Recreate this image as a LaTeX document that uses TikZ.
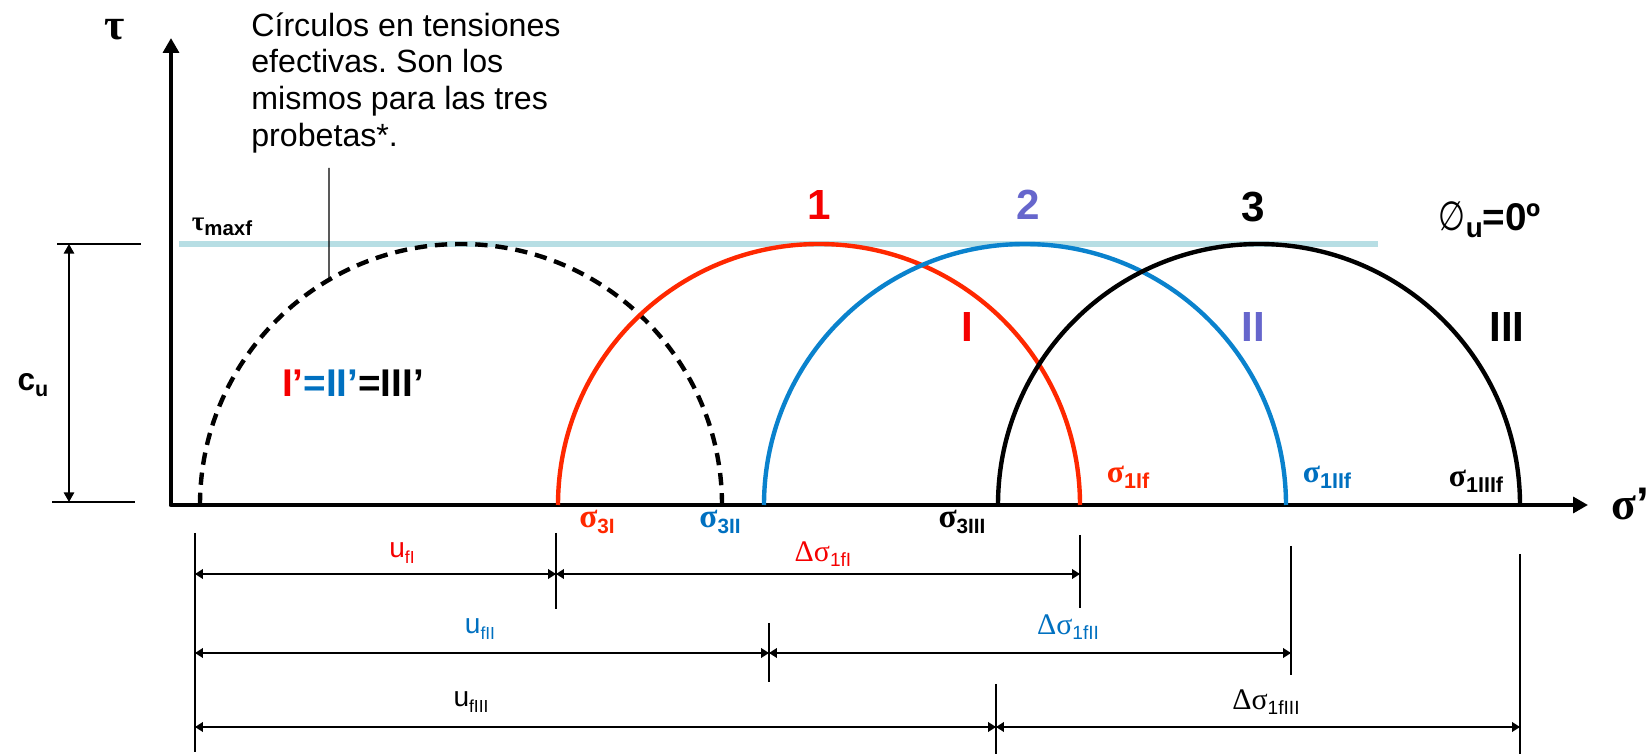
\documentclass[tikz,border=0pt]{standalone}
\usepackage{fontspec}
\usepackage{graphicx}
\setmainfont{Liberation Sans}
\newfontfamily\grkfont{Liberation Serif}
\newfontfamily\symfont{DejaVu Sans}
\usetikzlibrary{arrows.meta,calc}
\frenchspacing

\definecolor{circred}{RGB}{255,40,0}
\definecolor{labred}{RGB}{245,0,0}
\definecolor{circblue}{RGB}{10,130,205}
\definecolor{labblue}{RGB}{0,112,192}
\definecolor{lilac}{RGB}{102,102,204}
\definecolor{envcyan}{RGB}{183,222,228}

\newcommand{\grk}[1]{{\grkfont #1}}
\newcommand{\sbx}[2][0.6]{\raisebox{-0.35ex}{\scalebox{#1}{#2}}}

\begin{document}
\begin{tikzpicture}[x=0.02cm,y=0.02cm,
    axis/.style={line width=2.8pt,line join=round,
        {Triangle[length=8.5pt,width=9pt]}-{Triangle[length=8.5pt,width=9pt]}},
    circ/.style={line width=2.5pt},
    dimline/.style={line width=0.8pt,
        {Triangle[length=4.5pt,width=5.5pt]}-{Triangle[length=4.5pt,width=5.5pt]}},
    ext/.style={line width=0.6pt},
    num/.style={font=\fontsize{24}{26}\selectfont\bfseries},
    sig/.style={font=\fontsize{19}{21}\selectfont\bfseries},
    ulab/.style={font=\fontsize{16}{18}\selectfont},
    dlab/.style={font=\fontsize{17}{19}\selectfont}]
\useasboundingbox (0,0) rectangle (1650,754);

% ejes
\coordinate (O) at (171,249);
\coordinate (ytop) at (171,716);
\coordinate (xend) at (1588,249);
\draw[axis] (ytop) -- (O) -- (xend);
\node[font=\fontsize{25}{27}\selectfont\bfseries] (tau) at (115,724) {\grk{τ}};
\node[font=\fontsize{26}{28}\selectfont\bfseries] (sig) at (1630,250) {\grk{σ}’};

% envolvente
\coordinate (envL) at (179,510);
\coordinate (envR) at (1378,510);
\draw[envcyan,line width=2.9pt] (envL) -- (envR);
\node[font=\fontsize{15.5}{18}\selectfont\bfseries] (tmax) at (222,527) {\grk{τ}\sbx[0.75]{maxf}};
\node[font=\fontsize{22}{24}\selectfont\bfseries] (phi) at (1490,534)
    {{\symfont\mdseries\scalebox{0.8}[1.05]{∅}}\sbx[0.72]{u}=0º};

% circulos
\coordinate (c0) at (461,249);
\coordinate (c1) at (819,249);
\coordinate (c2) at (1025,249);
\coordinate (c3) at (1259,249);
\draw[circ,dash pattern=on 7pt off 4.5pt] (c0) ++(-261,0) arc[start angle=180,end angle=0,radius=261];
\draw[circ,circred] (c1) ++(-261,0) arc[start angle=180,end angle=0,radius=261];
\draw[circ,circblue] (c2) ++(-261,0) arc[start angle=180,end angle=0,radius=261];
\draw[circ] (c3) ++(-261,0) arc[start angle=180,end angle=0,radius=261];

\node[num,labred] (n1) at (819,549) {1};
\node[num,lilac] (n2) at (1028,549) {2};
\node[num] (n3) at (1253,547) {3};
\node[num,labred] (r1) at (967,427) {I};
\node[num,lilac] (r2) at (1253,427) {II};
\node[num] (r3) at (1507,427) {III};
\node[font=\fontsize{22}{24}\selectfont\bfseries] (eq) at (353,371)
    {\textcolor{labred}{I’}\textcolor{labblue}{=II’}=III’};

% nota
\node[font=\fontsize{18.3}{21}\selectfont,align=left,inner sep=0pt,anchor=north west] (nota) at (251,742)
    {Círculos en tensiones\\efectivas. Son los\\mismos para las tres\\probetas*.};
\coordinate (ltop) at (329,586);
\coordinate (lbot) at ($(c0)+(120.4:261)$);
\draw[line width=0.7pt] (ltop) -- (lbot);

% tensiones
\node[sig,circred] (s3a) at (597,232) {\grk{σ}\sbx[0.62]{3I}};
\node[sig,labblue] (s3b) at (720,232) {\grk{σ}\sbx[0.62]{3II}};
\node[sig] (s3c) at (962,232) {\grk{σ}\sbx[0.62]{3III}};
\node[sig,circred,font=\fontsize{18}{20}\selectfont\bfseries] (s1a) at (1128,277) {\grk{σ}\sbx[0.68]{1If}};
\node[sig,labblue,font=\fontsize{18}{20}\selectfont\bfseries] (s1b) at (1327,277) {\grk{σ}\sbx[0.68]{1IIf}};
\node[sig,font=\fontsize{18}{20}\selectfont\bfseries] (s1c) at (1476,273) {\grk{σ}\sbx[0.68]{1IIIf}};

% c_u
\coordinate (cuT) at (69,510);
\coordinate (cuB) at (69,252);
\draw[ext] (57,510) -- (141,510);
\draw[ext] (52,252) -- (135,252);
\draw[line width=0.8pt,{Triangle[length=5.5pt,width=6pt]}-{Triangle[length=5.5pt,width=6pt]}] (cuT) -- (cuB);
\node[font=\fontsize{18}{20}\selectfont\bfseries] (cu) at (33,369) {c\sbx[0.68]{u}};

% cotas
\coordinate (v0t) at (195,221); \coordinate (v0b) at (195,2);
\coordinate (v1t) at (556,221); \coordinate (v1b) at (556,145);
\coordinate (v2t) at (1080,219); \coordinate (v2b) at (1080,146);
\coordinate (v3t) at (769,131); \coordinate (v3b) at (769,72);
\coordinate (v4t) at (1291,208); \coordinate (v4b) at (1291,79);
\coordinate (v5t) at (996,70); \coordinate (v5b) at (996,0);
\coordinate (v6t) at (1520,200); \coordinate (v6b) at (1520,0);
\foreach \v in {0,...,6}
    \draw[ext] (v\v t) -- (v\v b);

\coordinate (row1) at (0,180);
\coordinate (row2) at (0,101);
\coordinate (row3) at (0,27);
\draw[dimline] (v0t |- row1) -- (v1t |- row1);
\draw[dimline] (v1t |- row1) -- (v2t |- row1);
\draw[dimline] (v0t |- row2) -- (v3t |- row2);
\draw[dimline] (v3t |- row2) -- (v4t |- row2);
\draw[dimline] (v0t |- row3) -- (v5t |- row3);
\draw[dimline] (v5t |- row3) -- (v6t |- row3);

\node[ulab,labred] (uf1) at (402,201) {u\sbx[0.62]{fI}};
\node[dlab,labred] (ds1) at (823,200) {\grk{Δσ}\sbx[0.64]{1fI}};
\node[ulab,labblue] (uf2) at (480,125) {u\sbx[0.62]{fII}};
\node[dlab,labblue] (ds2) at (1068,127) {\grk{Δσ}\sbx[0.64]{1fII}};
\node[ulab] (uf3) at (471,52) {u\sbx[0.62]{fIII}};
\node[dlab] (ds3) at (1266,52) {\grk{Δσ}\sbx[0.64]{1fIII}};

\end{tikzpicture}
\end{document}
